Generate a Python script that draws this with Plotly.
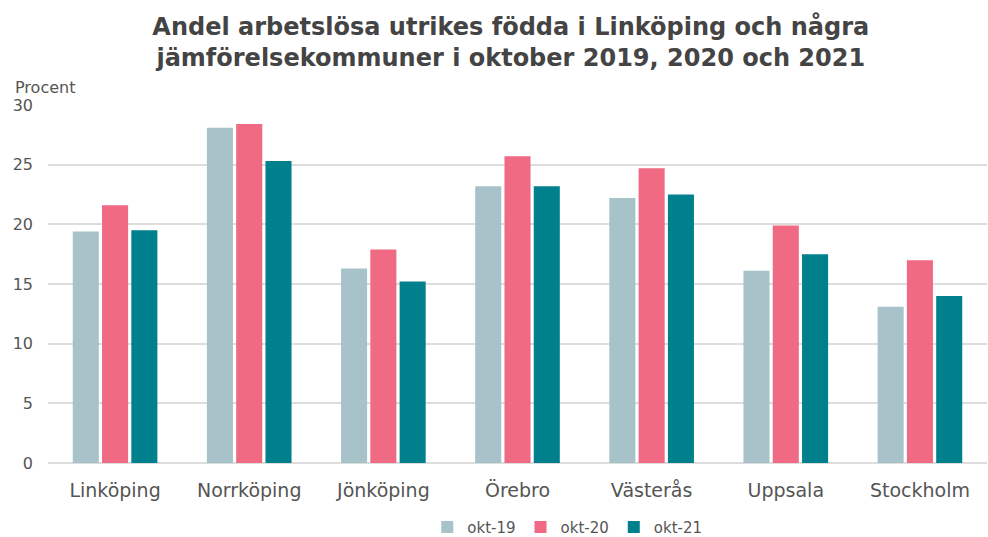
import plotly.graph_objects as go

categories = ["Linköping", "Norrköping", "Jönköping", "Örebro", "Västerås", "Uppsala", "Stockholm"]
series_names = ["okt-19", "okt-20", "okt-21"]
okt19 = [19.4, 28.1, 16.3, 23.2, 22.2, 16.1, 13.1]
okt20 = [21.6, 28.4, 17.9, 25.7, 24.7, 19.9, 17.0]
okt21 = [19.5, 25.3, 15.2, 23.2, 22.5, 17.5, 14.0]
colors = ["#A7C3C9", "#F06A84", "#00808C"]
y_ticks = [0, 5, 10, 15, 20, 25, 30]

FONT = "DejaVu Sans, Verdana, sans-serif"

fig = go.Figure()
for name, vals, col in zip(series_names, [okt19, okt20, okt21], colors):
    fig.add_trace(go.Bar(x=categories, y=vals, name=name, marker_color=col,
                         marker_line_width=0))

fig.update_layout(
    width=988, height=537,
    paper_bgcolor="white", plot_bgcolor="white",
    font=dict(family=FONT, color="#555555"),
    title=dict(text="Andel arbetslösa utrikes födda i Linköping och några<br>jämförelsekommuner i oktober 2019, 2020 och 2021",
               x=0.517, xanchor="center", yref="container", y=0.935, yanchor="top",
               font=dict(size=24, color="#444444", family=FONT, weight="bold")),
    margin=dict(l=48, r=1, t=105, b=74, autoexpand=False),
    barmode="group", bargap=0.345, bargroupgap=0.11,
    legend=dict(orientation="h", x=0.553, xanchor="center", yref="container", y=0.018, yanchor="middle",
                font=dict(size=15, color="#555555"), itemwidth=30, traceorder="normal"),
    xaxis=dict(showgrid=False, showline=False, ticks="", automargin=False,
               tickfont=dict(size=19, color="#555555"), ticklabelstandoff=14),
    yaxis=dict(range=[0, 30], tickvals=y_ticks, showgrid=True, gridcolor="#DDDDDD", gridwidth=1.5,
               zeroline=True, zerolinecolor="#DDDDDD", zerolinewidth=1.5, automargin=False,
               tickfont=dict(size=16, color="#555555"), ticklabelstandoff=14),
    annotations=[dict(text="Procent", xref="paper", yref="paper", x=-0.037, y=1.0, xanchor="left",
                      yanchor="bottom", yshift=6, showarrow=False, font=dict(size=16, color="#555555"))],
)

fig.write_html("out.html", config={"displayModeBar": False},
               post_script="document.body.style.margin='0';")
